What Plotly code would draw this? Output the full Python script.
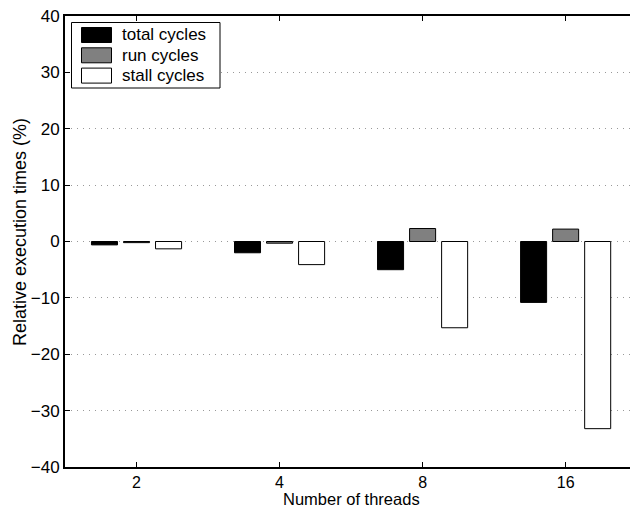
import plotly.graph_objects as go

threads = ['2', '4', '8', '16']
series = ['total cycles', 'run cycles', 'stall cycles']
total_cycles = [-0.6, -2.0, -5.0, -10.8]
run_cycles = [-0.2, -0.3, 2.3, 2.2]
stall_cycles = [-1.3, -4.1, -15.3, -33.2]
colors = ['#000000', '#808080', '#ffffff']

W, H = 634, 508
L, R, T, B = 65, 4, 16, 41

# pixel -> paper helpers for the hand-drawn legend box
def px(x):
    return (x - L) / (W - L - R)

def py(y):
    return (H - B - y) / (H - T - B)

pos = list(range(1, len(threads) + 1))
fig = go.Figure()
for name, vals, c, off in zip(series, [total_cycles, run_cycles, stall_cycles], colors, [-0.224, 0, 0.224]):
    fig.add_trace(go.Bar(
        x=[p + off for p in pos], y=vals, width=0.182, name=name,
        marker=dict(color=c, line=dict(color='black', width=1)),
        showlegend=False,
    ))

fnt = dict(family='Liberation Sans, Arial, sans-serif', size=17, color='black')
xfnt = dict(fnt, size=16)

shapes = [dict(type='rect', xref='paper', yref='paper',
               x0=px(71.5), x1=px(220), y0=py(88), y1=py(22.5),
               line=dict(color='black', width=1), fillcolor='white', layer='above')]
annotations = []
for i, (name, c) in enumerate(zip(series, colors)):
    yc = 35 + i * 20.3
    shapes.append(dict(type='rect', xref='paper', yref='paper',
                       x0=px(81.5), x1=px(111.5), y0=py(yc + 7.5), y1=py(yc - 7.5),
                       line=dict(color='black', width=1), fillcolor=c, layer='above'))
    annotations.append(dict(xref='paper', yref='paper', x=px(120), y=py(yc),
                            text=name, showarrow=False, xanchor='left', yanchor='middle',
                            font=fnt))

# axis titles placed by hand so the margins stay fixed
annotations.append(dict(xref='paper', yref='paper', x=px(351), y=py(499),
                        text='Number of threads', showarrow=False,
                        xanchor='center', yanchor='middle', font=dict(fnt, size=16.5)))
annotations.append(dict(xref='paper', yref='paper', x=px(20), y=py(232),
                        text='Relative execution times (%)', showarrow=False, textangle=-90,
                        xanchor='center', yanchor='middle', font=dict(fnt, size=18)))

fig.update_layout(
    width=W, height=H,
    margin=dict(l=L, r=R, t=T, b=B),
    paper_bgcolor='white', plot_bgcolor='white',
    font=fnt,
    shapes=shapes, annotations=annotations,
    barmode='overlay',
)
fig.update_xaxes(
    range=[0.5, 4.45], tickvals=pos, ticktext=threads,
    ticks='inside', ticklen=5, tickcolor='black', tickwidth=1,
    showline=True, linecolor='black', linewidth=2, mirror='ticks',
    showgrid=False, zeroline=False, automargin=False, tickfont=xfnt,
)
fig.update_yaxes(
    range=[-40, 40], dtick=10,
    ticks='inside', ticklen=5, tickcolor='black', tickwidth=1,
    showline=True, linecolor='black', linewidth=2, mirror=False,
    showgrid=True, gridcolor='#999999', griddash='1px,5px', gridwidth=1,
    zeroline=False, automargin=False, tickfont=fnt,
)

# page has a default 8px body margin; drop it so the figure fills the window
fig.write_html('out.html', config={'displayModeBar': False},
               post_script="document.body.style.margin='0';document.body.style.overflow='hidden';")
